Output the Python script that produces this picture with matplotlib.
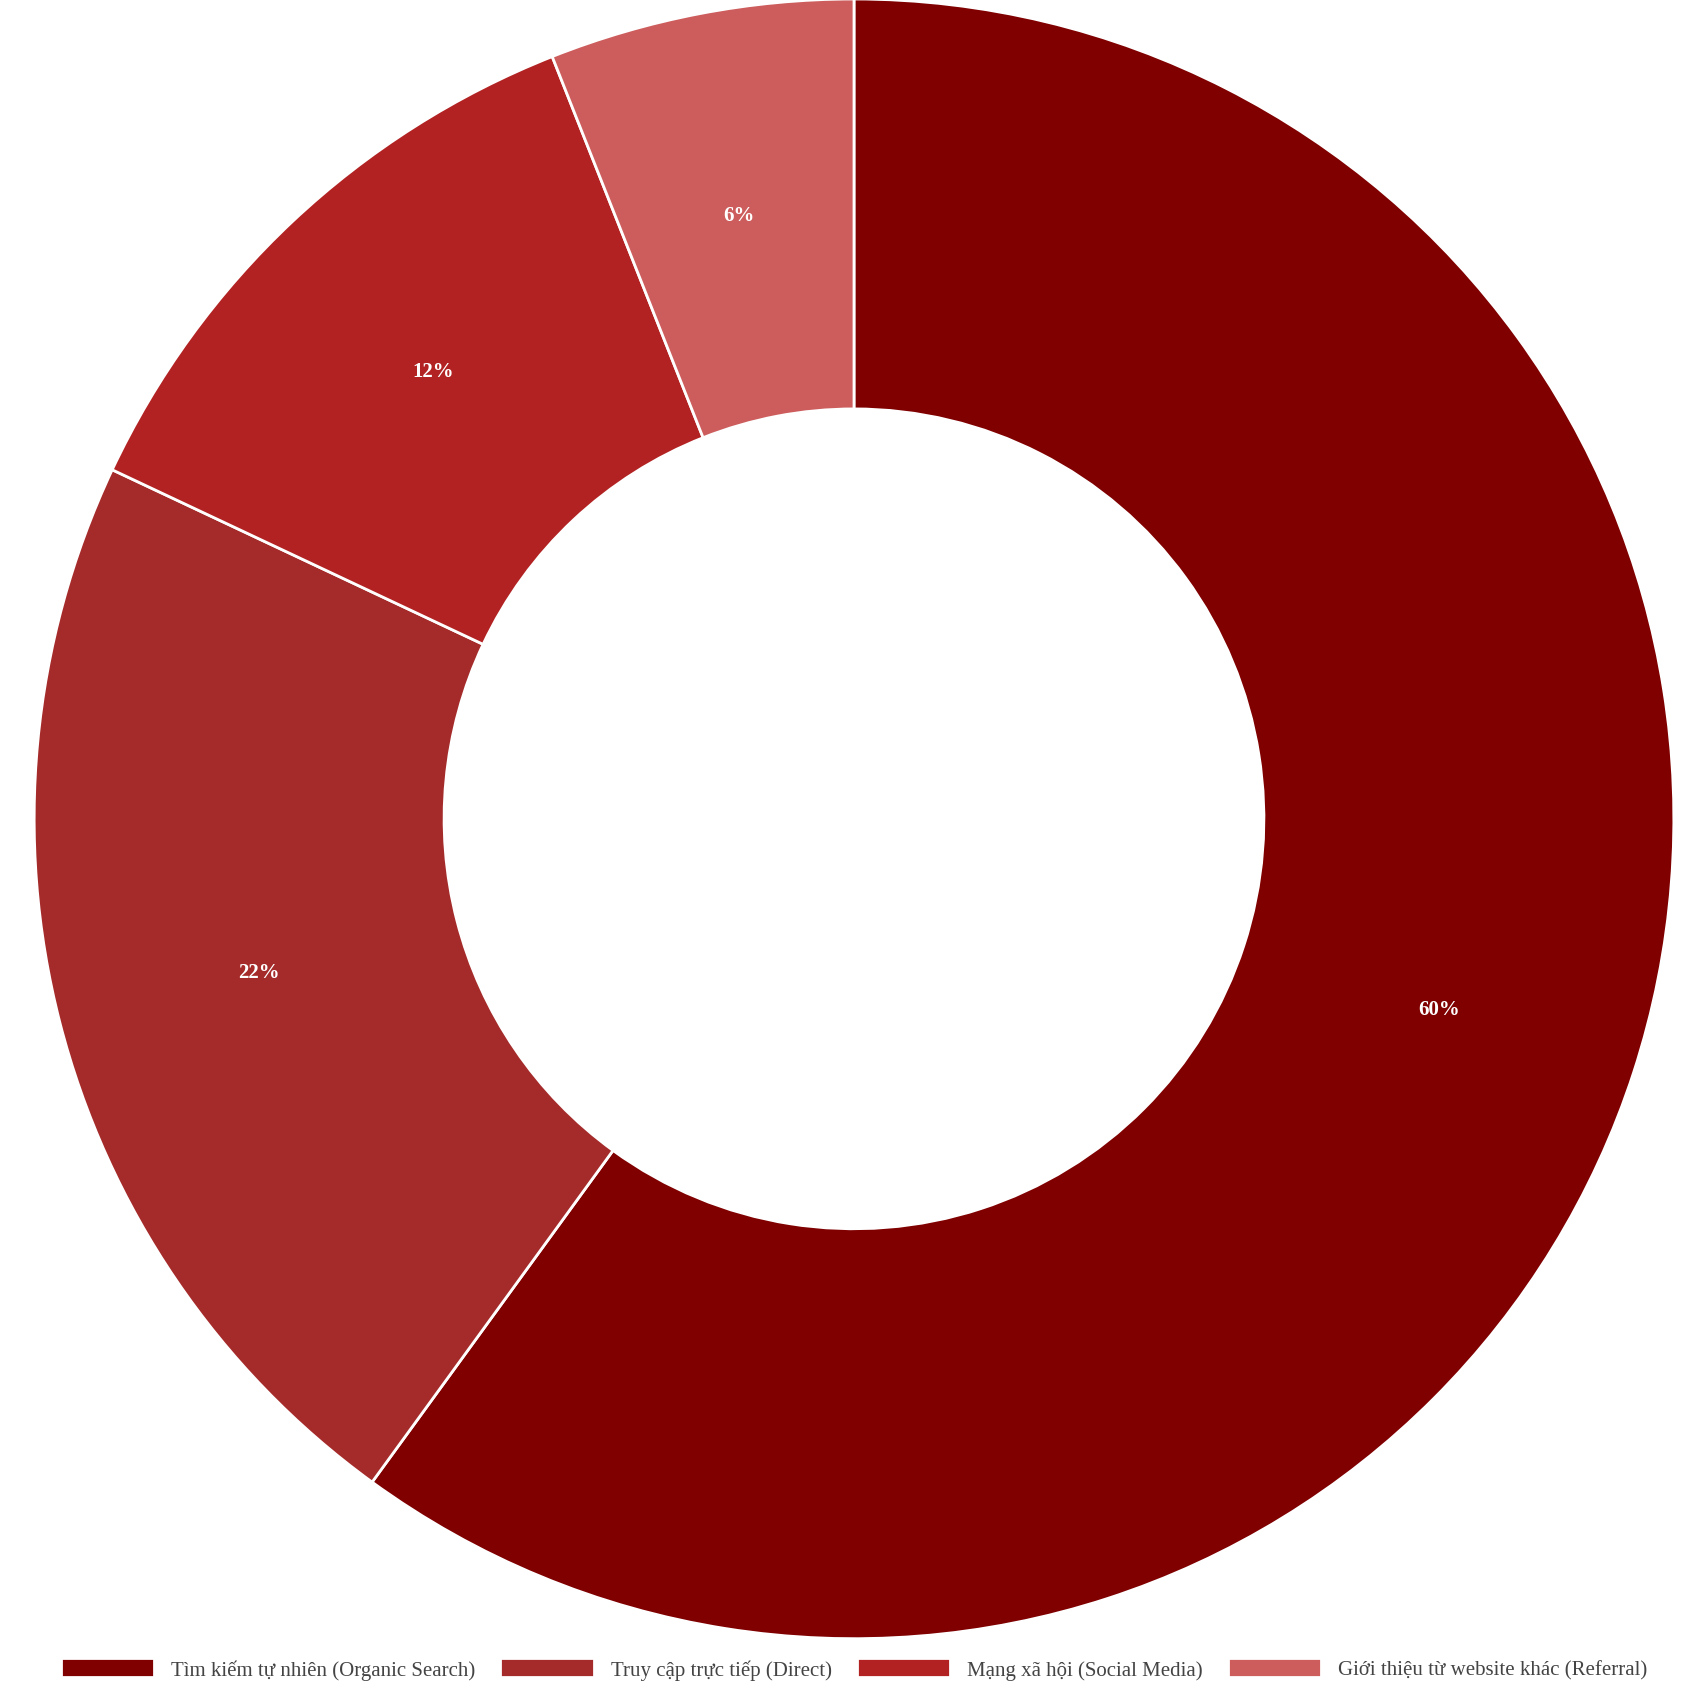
import matplotlib
matplotlib.use("Agg")
import matplotlib.pyplot as plt

labels = ["Tìm kiếm tự nhiên (Organic Search)", "Truy cập trực tiếp (Direct)",
          "Mạng xã hội (Social Media)", "Giới thiệu từ website khác (Referral)"]
values = [60, 22, 12, 6]
colors = ["#800000", "#A52A2A", "#B22222", "#CD5C5C"]

plt.rcParams['font.family'] = ['Liberation Serif', 'DejaVu Serif']
fig = plt.figure(figsize=(17.08, 17.08), dpi=100)
ax = fig.add_axes([0.02, 0.04, 0.96, 0.96])
wedges, texts, autotexts = ax.pie(values, colors=colors, startangle=90, counterclock=False,
       radius=1, wedgeprops=dict(width=0.5, edgecolor="white", linewidth=2),
       autopct=lambda p: f"{p:.0f}%", pctdistance=0.75,
       textprops=dict(color="white", fontsize=15, fontweight="bold"))
ax.set_xlim(-1, 1); ax.set_ylim(-1, 1); ax.set_aspect("equal")
fig.legend(wedges, labels, loc="lower center", bbox_to_anchor=(0.5, 0.005), ncol=4,
           frameon=False, fontsize=15, handlelength=4.5, handleheight=1.0,
           columnspacing=1.2, labelcolor="#444444")
fig.savefig("out.png", dpi=100)
